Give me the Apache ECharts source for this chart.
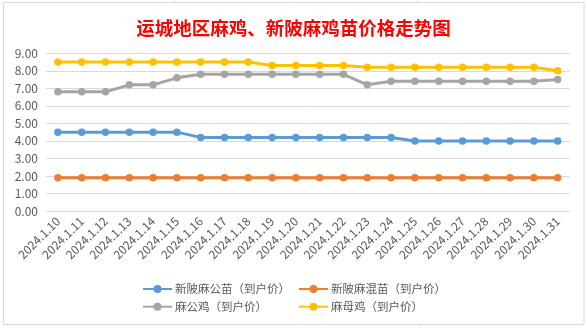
<!DOCTYPE html>
<html>
<head>
<meta charset="utf-8">
<script src="https://cdn.jsdelivr.net/npm/echarts@6/dist/echarts.min.js"></script>
<style>
html,body{margin:0;padding:0;background:#fff;}
#main{width:587px;height:328px;}
</style>
</head>
<body>
<div id="main"></div>
<script>
const categories = ['2024.1.10','2024.1.11','2024.1.12','2024.1.13','2024.1.14','2024.1.15','2024.1.16','2024.1.17','2024.1.18','2024.1.19','2024.1.20','2024.1.21','2024.1.22','2024.1.23','2024.1.24','2024.1.25','2024.1.26','2024.1.27','2024.1.28','2024.1.29','2024.1.30','2024.1.31'];
const gongMiao = [4.5,4.5,4.5,4.5,4.5,4.5,4.2,4.2,4.2,4.2,4.2,4.2,4.2,4.2,4.2,4.0,4.0,4.0,4.0,4.0,4.0,4.0];
const hunMiao  = [1.9,1.9,1.9,1.9,1.9,1.9,1.9,1.9,1.9,1.9,1.9,1.9,1.9,1.9,1.9,1.9,1.9,1.9,1.9,1.9,1.9,1.9];
const gongJi   = [6.8,6.8,6.8,7.2,7.2,7.6,7.8,7.8,7.8,7.8,7.8,7.8,7.8,7.2,7.4,7.4,7.4,7.4,7.4,7.4,7.4,7.5];
const muJi     = [8.5,8.5,8.5,8.5,8.5,8.5,8.5,8.5,8.5,8.3,8.3,8.3,8.3,8.2,8.2,8.2,8.2,8.2,8.2,8.2,8.2,8.0];
const seriesNames = ['新陂麻公苗（到户价）','新陂麻混苗（到户价）','麻公鸡（到户价）','麻母鸡（到户价）'];
const colors = ['#5B9BD5','#ED7D31','#A5A5A5','#FFC000'];
const seriesData = [gongMiao, hunMiao, gongJi, muJi];

const FONT = '"Noto Sans CJK SC", "Microsoft YaHei", sans-serif';
const chart = echarts.init(document.getElementById('main'), null, {renderer:'canvas'});

const legendCommon = {
  orient: 'vertical',
  top: 282,
  itemWidth: 29,
  itemHeight: 10,
  itemGap: 3.7,
  textStyle: {color:'#595959', fontSize:11.5, fontFamily:FONT, lineHeight:14, padding:[0,0,0,-2]},
  padding: 0
};

chart.setOption({
  backgroundColor: '#ffffff',
  animation: false,
  color: colors,
  title: {
    text: '运城地区麻鸡、新陂麻鸡苗价格走势图',
    left: 'center',
    top: 13,
    textStyle: {color:'#FF0000', fontSize:18.5, fontWeight:'bold', fontFamily:FONT, lineHeight:20}
  },
  legend: [
    Object.assign({}, legendCommon, {left: 142, data: [seriesNames[0], seriesNames[2]]}),
    Object.assign({}, legendCommon, {left: 298, data: [seriesNames[1], seriesNames[3]]})
  ],
  grid: {left: 46, right: 17.4, top: 53.3, bottom: 117, containLabel: false},
  xAxis: {
    type: 'category',
    data: categories,
    boundaryGap: true,
    axisLine: {show: true, lineStyle: {color:'#D9D9D9', width:1}},
    axisTick: {show: false},
    axisLabel: {rotate: 45, margin: 8, color:'#595959', fontSize:12, fontFamily:FONT, interval:0}
  },
  yAxis: {
    type: 'value',
    min: 0, max: 9, interval: 1,
    axisLine: {show:false},
    axisTick: {show:false},
    splitLine: {lineStyle: {color:'#D9D9D9', width:1}},
    axisLabel: {color:'#595959', fontSize:12, fontFamily:FONT, margin:8, formatter: v => v.toFixed(2)}
  },
  series: seriesData.map((d, i) => ({
    name: seriesNames[i],
    type: 'line',
    data: d,
    symbol: 'circle',
    symbolSize: 7.5,
    lineStyle: {width: 3, color: colors[i]},
    itemStyle: {color: colors[i]},
    z: 2 + i
  })),
  graphic: [
    {type:'rect', shape:{x:3.5, y:2.5, width:580.5, height:322}, style:{fill:'none', stroke:'#D9D9D9', lineWidth:1}, z:-1},
    {type:'line', shape:{x1:174.5,y1:0,x2:174.5,y2:2}, style:{stroke:'#E3E3E3'}},
    {type:'line', shape:{x1:418.5,y1:0,x2:418.5,y2:2}, style:{stroke:'#E3E3E3'}},
    {type:'line', shape:{x1:420.5,y1:325,x2:420.5,y2:328}, style:{stroke:'#E3E3E3'}}
  ]
});
</script>
</body>
</html>
